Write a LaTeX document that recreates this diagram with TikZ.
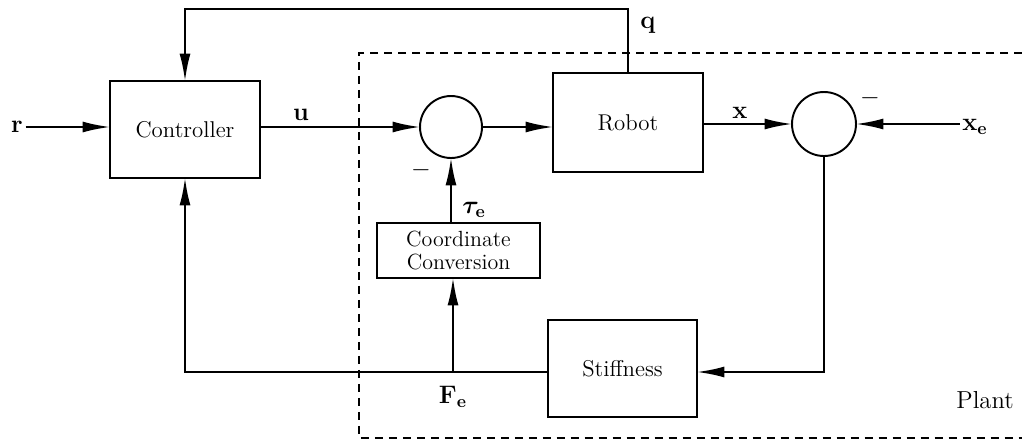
\documentclass[tikz,border=0pt]{standalone}
\usepackage{amsmath,amssymb,bm}
\usepackage{tikz}
\usetikzlibrary{arrows.meta}

\begin{document}
\begin{tikzpicture}[
  x=0.02cm, y=-0.02cm,
  line width=1.1pt,
  block/.style={rectangle, draw, line width=1.1pt, outer sep=0pt,
                font=\fontsize{13}{14}\selectfont, align=center},
  sumnode/.style={circle, draw, line width=1.1pt, outer sep=0pt,
                  minimum size=1.24cm, inner sep=0pt},
  sig/.style={font=\Large, inner sep=1pt},
  arr/.style={-{Latex[length=5.5mm, width=2.2mm]}},
  plantbox/.style={dashed, dash pattern=on 0.16cm off 0.12cm, line width=1pt}
]
\useasboundingbox (0,0) rectangle (1022,443);

% plant boundary (open on the right)
\draw[plantbox] (1022,53) -- (359,53) -- (359,438) -- (1022,438);

\node[block, minimum width=3cm, minimum height=1.94cm] (ctrl) at (185,129.5) {Controller};
\node[block, minimum width=3cm, minimum height=1.98cm] (robot) at (628,122.5) {Robot};
\node[block, minimum width=2.98cm, minimum height=1.94cm] (stiff) at (622.5,368.5) {Stiffness};
\node[block, minimum width=3.26cm, minimum height=1.1cm, inner sep=1pt,
      font=\fontsize{12.5}{13}\selectfont] (conv)
  at (458.5,250.5) {Coordinate\\Conversion};

\node[sumnode] (sum1) at (451,127) {};
\node[sumnode, minimum size=1.28cm] (sum2) at (824,124) {};

% signals
\node[sig] (r) at (17,127) {$\mathbf{r}$};
\node[sig] (xe) at (975,127) {$\mathbf{x}_{\mathbf{e}}$};
\node[sig] at (301,115) {$\mathbf{u}$};
\node[sig] at (740,113) {$\mathbf{x}$};
\node[sig] at (648,25) {$\mathbf{q}$};
\node[sig] at (474,210) {$\bm{\tau}_{\mathbf{e}}$};
\node[sig] at (453,397) {$\mathbf{F}_{\mathbf{e}}$};
\node[sig] at (421,170) {$-$};
\node[sig] at (870,98) {$-$};
\node[sig, font=\fontsize{14}{16}\selectfont] at (985,400) {Plant};

\coordinate (fe) at (453,372);

\draw[arr] (r) -- (ctrl.west |- r);
\draw[arr] (ctrl.east |- sum1) -- (sum1.west);
\draw[arr] (sum1.east) -- (sum1 -| robot.west);
\draw[arr] (robot.east |- sum2) -- (sum2.west);
\draw[arr] (xe.west |- sum2) -- (sum2.east);
\draw[arr] (sum2.south) |- (stiff.east |- fe);
\draw[arr] (stiff.west |- fe) -| (ctrl.south);
\draw[arr] (fe) -- (conv.south -| fe);
\draw[arr] (conv.north -| sum1) -- (sum1.south);
\draw[arr] (robot.north) -- ++(0,-64) -| (ctrl.north);
\end{tikzpicture}
\end{document}
